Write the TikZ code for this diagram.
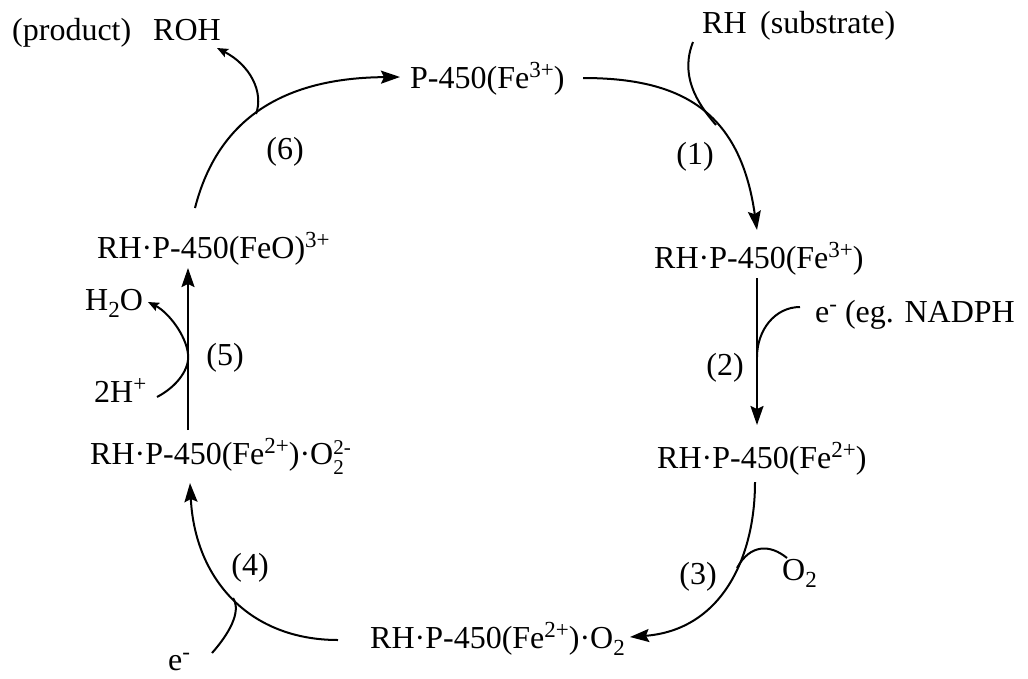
\documentclass[tikz,border=0pt]{standalone}
\usepackage{fontspec}
\setmainfont{Liberation Serif}
\usetikzlibrary{arrows.meta}
\newcommand\smf{\fontsize{23}{23}\selectfont}
\newcommand\up[1]{\raisebox{0.33em}{\smf #1}}
\newcommand\dn[1]{\raisebox{-0.24em}{\smf #1}}
\newcommand\updn[2]{\raisebox{-0.32em}{\fontsize{21}{18}\selectfont\renewcommand\arraystretch{1}\begin{tabular}[b]{@{}l@{}}#2\\#1\end{tabular}}}
\begin{document}
\begin{tikzpicture}[x=1pt,y=-1pt,
  lbl/.style={inner sep=0pt,anchor=base west,font=\fontsize{32}{36}\selectfont},
  num/.style={inner sep=0pt,anchor=center,font=\fontsize{32}{36}\selectfont},
  rx/.style={line width=2pt,-{Stealth[length=19pt,width=13pt,inset=3pt]}},
  br/.style={line width=2pt},
  brx/.style={line width=2pt,-{Stealth[length=11pt,width=9pt,inset=2pt]}}]
\useasboundingbox (0,0) rectangle (1028,678);
% species
\node[lbl] (prod) at (12,40) {(product)};
\node[lbl] (roh) at (153,40) {ROH};
\node[lbl] (rh) at (702,33) {RH};
\node[lbl] (subs) at (760,33) {(substrate)};
\node[lbl] (s0) at (410,88) {P-450(Fe\up{3+})};
\node[lbl] (s1) at (654,268) {RH·P-450(Fe\up{3+})};
\node[lbl] (elec) at (815,322) {e\up{-} (eg. NADPH};
\node[lbl] (s2) at (657,468) {RH·P-450(Fe\up{2+})};
\node[lbl] (o2) at (782,580) {O\dn{2}};
\node[lbl] (s3) at (370,648) {RH·P-450(Fe\up{2+})·O\dn{2}};
\node[lbl] (e4) at (168,670) {e\up{-}};
\node[lbl] (s4) at (90,464) {RH·P-450(Fe\up{2+})·O\updn{2}{2-}};
\node[lbl] (h2o) at (85,310) {H\dn{2}O};
\node[lbl] (hp) at (94,402) {2H\up{+}};
\node[lbl] (s5) at (97,258) {RH·P-450(FeO)\up{3+}};
% step numbers
\node[num] (n1) at (695,157) {(1)};
\node[num] (n2) at (725,368) {(2)};
\node[num] (n3) at (698,577) {(3)};
\node[num] (n4) at (250,568) {(4)};
\node[num] (n5) at (225,358) {(5)};
\node[num] (n6) at (285,152) {(6)};
% connector coordinates
\coordinate (a1) at (583,78);  \coordinate (b1) at (757,230);
\coordinate (j1) at (716,125); \coordinate (r1) at (693,42);
\coordinate (a2) at (757,278); \coordinate (b2) at (757,425);
\coordinate (j2) at (757,357); \coordinate (r2) at (800,307);
\coordinate (a3) at (755,482); \coordinate (b3) at (630,637);
\coordinate (j3) at (737,568); \coordinate (r3) at (787,558);
\coordinate (a4) at (338,640); \coordinate (b4) at (190,483);
\coordinate (j4) at (233,598); \coordinate (r4) at (212,653);
\coordinate (a5) at (188,430); \coordinate (b5) at (188,268);
\coordinate (r5) at (157,397); \coordinate (j5) at (188,354); \coordinate (p5) at (148,302);
\coordinate (a6) at (195,208); \coordinate (b6) at (400,77);
\coordinate (j6) at (256,114); \coordinate (p6) at (217,48);
% (1)
\draw[rx] (a1) .. controls (680,78) and (740,110) .. (b1);
\draw[br] (r1) .. controls (680,75) and (696,102) .. (j1);
% (2)
\draw[rx] (a2) -- (b2);
\draw[br] (r2) .. controls (775,307) and (757,330) .. (j2);
% (3)
\draw[rx] (a3) .. controls (755,560) and (720,630) .. (b3);
\draw[br] (r3) .. controls (770,544) and (750,544) .. (j3);
% (4)
\draw[rx] (a4) .. controls (250,640) and (195,580) .. (b4);
\draw[br] (r4) .. controls (228,635) and (242,612) .. (j4);
% (5)
\draw[rx] (a5) -- (b5);
\draw[brx] (r5) .. controls (178,386) and (190,368) .. (j5) .. controls (186,335) and (168,312) .. (p5);
% (6)
\draw[rx] (a6) .. controls (215,130) and (270,78) .. (b6);
\draw[brx] (j6) .. controls (264,92) and (250,65) .. (p6);
\end{tikzpicture}
\end{document}
